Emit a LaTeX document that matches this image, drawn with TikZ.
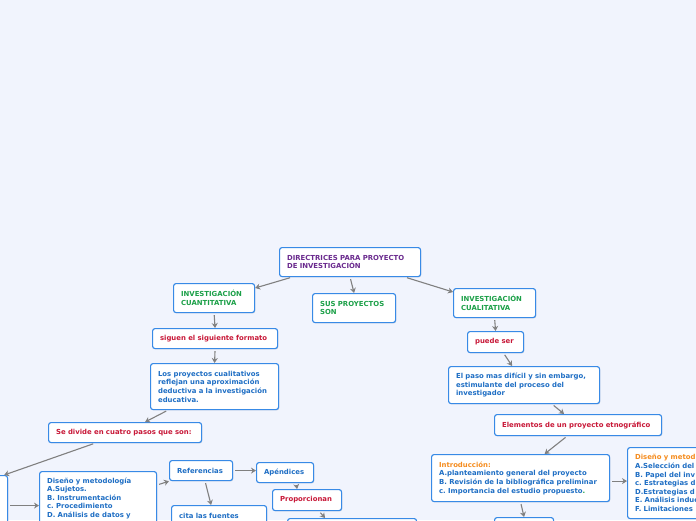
\documentclass[tikz,border=0pt]{standalone}
\usepackage{fontspec}
\setmainfont{DejaVu Sans}
\usepackage{xcolor}
\usetikzlibrary{arrows.meta,shadows}
\frenchspacing

\definecolor{bgpage}{RGB}{241,244,253}
\definecolor{boxline}{RGB}{56,138,230}
\definecolor{txtpurple}{RGB}{106,42,142}
\definecolor{txtgreen}{RGB}{28,160,72}
\definecolor{txtred}{RGB}{200,24,56}
\definecolor{txtblue}{RGB}{30,110,196}
\definecolor{txtorange}{RGB}{245,140,30}
\definecolor{arrowgray}{RGB}{128,128,128}

\begin{document}
\begin{tikzpicture}[
    x=1pt, y=-1pt,
    font=\fontsize{6.9}{8.6}\selectfont\bfseries,
    box/.style={draw=boxline, line width=1.15pt, fill=white, rounded corners=2.5pt, anchor=north west, align=left,
        inner xsep=7.5pt, inner ysep=6pt, text=txtblue,
        drop shadow={shadow xshift=0.7pt, shadow yshift=-0.9pt, opacity=0.2}},
    title/.style={box, text=txtpurple},
    kind/.style={box, text=txtgreen},
    link/.style={box, text=txtred},
    arrow/.style={-{Stealth[length=5pt,width=6pt]}, arrowgray, line width=1.1pt, shorten <=2pt}
]
\useasboundingbox (0,0) rectangle (696,520);
\fill[bgpage] (0,0) rectangle (696,520);
\clip (0,0) rectangle (696,520);

% top of the map
\node[title, text width=126pt, minimum height=29pt] (root) at (279,247) {DIRECTRICES PARA PROYECTO\\DE INVESTIGACIÓN};
\node[kind, text width=66pt, minimum height=29pt] (cuant) at (173,283) {INVESTIGACIÓN\\CUANTITATIVA};
\node[kind, text width=68pt, minimum height=29pt] (son) at (312,293) {SUS PROYECTOS\\SON};
\node[kind, text width=67pt, minimum height=29pt] (cual) at (453,288) {INVESTIGACIÓN\\CUALITATIVA};

% left branch
\node[link, text width=110pt, minimum height=20pt] (siguen) at (152,328) {siguen el siguiente formato};
\node[box, text width=113pt, minimum height=46pt] (proyectos) at (150,363) {Los proyectos cualitativos\\reflejan una aproximación\\deductiva a la investigación\\educativa.};
\node[link, text width=138pt, minimum height=20pt] (divide) at (48,422) {Se divide en cuatro pasos que son:};
\node[box, text width=32pt, minimum height=60pt] (paso1) at (-40,475) {};
\node[box, text width=102pt] (diseno) at (39,471) {Diseño y metodología\\A.Sujetos.\\B. Instrumentación\\c. Procedimiento\\D. Análisis de datos y};
\node[box, text width=48pt, minimum height=20pt] (refs) at (169,460) {Referencias};
\node[box, text width=42pt, minimum height=20pt] (apend) at (256,462) {Apéndices};
\node[link, text width=54pt, minimum height=21pt] (proporc) at (272,489) {Proporcionan};
\node[box, text width=80pt, minimum height=20pt] (cita) at (171,505) {cita las fuentes};
\node[box, text width=114pt, minimum height=20pt] (bot1) at (287,518) {};

% right branch
\node[link, text width=41pt, minimum height=21pt] (puede) at (467,331) {puede ser};
\node[box, text width=136pt, minimum height=37pt] (paso) at (448,366) {El paso mas difícil y sin embargo,\\estimulante del proceso del\\investigador};
\node[link, text width=152pt, minimum height=21pt] (elem) at (494,414) {Elementos de un proyecto etnográfico};
\node[box, text width=163pt, minimum height=47pt] (intro) at (431,454) {\textcolor{txtorange}{Introducción:}\\A.planteamiento general del proyecto\\B. Revisión de la bibliográfica preliminar\\c. Importancia del estudio propuesto\textcolor{txtgreen}{.}};
\node[box, text width=105pt, minimum height=71pt] (diseno2) at (627,447) {\textcolor{txtorange}{Diseño y metod}\\A.Selección del\\B. Papel del inv\\c. Estrategias d\\D.Estrategias d\\E. Análisis induc\\F. Limitaciones};
\node[box, text width=44pt, minimum height=20pt] (bot2) at (494,517) {};

\draw[arrow] ([xshift=13pt]root.south west) -- ([yshift=-5pt]cuant.north east);
\draw[arrow] (root.south) -- (son.north);
\draw[arrow] ([xshift=-16pt]root.south east) -- ([yshift=-4pt]cual.north west);
\draw[arrow] (cuant.south) -- (siguen.north);
\draw[arrow] (siguen.south) -- (proyectos.north);
\draw[arrow] ([xshift=18pt]proyectos.south west) -- ([xshift=20pt]divide.north);
\draw[arrow] ([xshift=-30pt]divide.south) -- ([xshift=-4pt]paso1.north east);
\draw[arrow] (paso1.east) -- (paso1.east -| diseno.west);
\draw[arrow] ([yshift=-14pt]diseno.north east) -- (refs.south west);
\draw[arrow] (refs.east) -- (refs.east -| apend.west);
\draw[arrow] ([xshift=4pt]refs.south) -- ([xshift=-8pt]cita.north);
\draw[arrow] ([xshift=11pt]apend.south) -- ([xshift=-10pt]proporc.north);
\draw[arrow] ([xshift=12pt]proporc.south) -- ([xshift=-27pt]bot1.north);
\draw[arrow] (cual.south) -- (puede.north);
\draw[arrow] ([xshift=8pt]puede.south) -- ([xshift=-12pt]paso.north);
\draw[arrow] ([xshift=28pt]paso.south) -- ([xshift=-14pt]elem.north);
\draw[arrow] ([xshift=-11pt]elem.south) -- ([xshift=24pt]intro.north);
\draw[arrow] ([yshift=-3pt]intro.east) -- ([yshift=-3pt]intro.east -| diseno2.west);
\draw[arrow] (intro.south) -- (bot2.north);
\end{tikzpicture}
\end{document}
